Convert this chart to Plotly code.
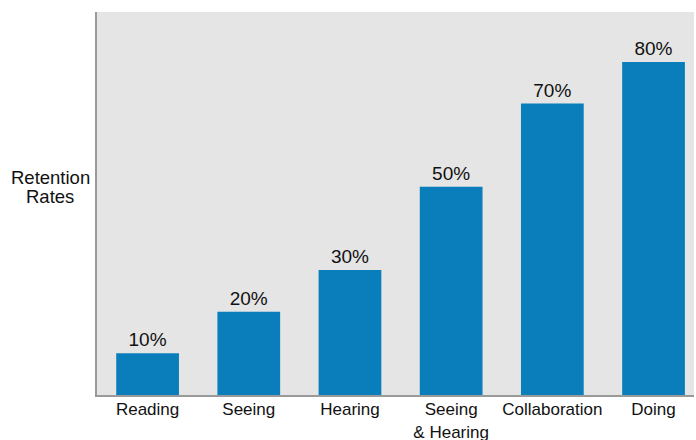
import plotly.graph_objects as go

categories = ["Reading", "Seeing", "Hearing", "Seeing<br>& Hearing", "Collaboration", "Doing"]
values = [10, 20, 30, 50, 70, 80]
labels = ["10%", "20%", "30%", "50%", "70%", "80%"]
y_title_lines = ["Retention", "Rates"]

fig = go.Figure(go.Bar(
    x=categories, y=values, text=labels, textposition="outside",
    marker=dict(color="#0a7dbb", line=dict(width=0)),
    width=0.62, cliponaxis=False,
    textfont=dict(size=19, color="#111111"),
    hoverinfo="skip",
))

fig.update_layout(
    width=696, height=440,
    margin=dict(l=97, r=2, t=12, b=45, autoexpand=False),
    paper_bgcolor="white", plot_bgcolor="#e5e5e5",
    font=dict(family="Liberation Sans, Arial, sans-serif", size=18, color="#111111"),
    showlegend=False,
    xaxis=dict(type="category", range=[-0.5, 5.4], showline=True, linecolor="#9a9a9a",
               linewidth=2, ticks="", showgrid=False, automargin=False,
               tickfont=dict(size=17), ticklabelstandoff=-2),
    yaxis=dict(range=[0, 92], showline=True, linecolor="#9a9a9a", linewidth=2,
               showticklabels=False, ticks="", showgrid=False, zeroline=False,
               automargin=False),
    annotations=[
        dict(text=y_title_lines[0], xref="paper", yref="paper", x=-0.0785, y=0.567,
             xanchor="center", yanchor="middle", showarrow=False,
             font=dict(size=18.5, color="#111111")),
        dict(text=y_title_lines[1], xref="paper", yref="paper", x=-0.0785, y=0.517,
             xanchor="center", yanchor="middle", showarrow=False,
             font=dict(size=18.5, color="#111111")),
    ],
)

fig.write_html(
    "out.html",
    config={"displayModeBar": False, "staticPlot": True},
    post_script="document.body.style.margin='0';document.documentElement.style.overflow='hidden';",
)
